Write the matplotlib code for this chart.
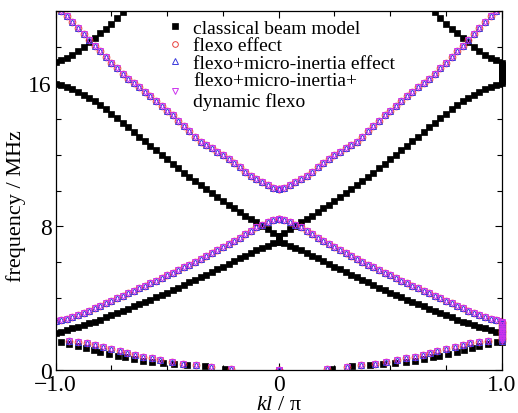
import numpy as np
import matplotlib
matplotlib.use("Agg")
import matplotlib.pyplot as plt
from matplotlib.ticker import MultipleLocator

plt.rcParams['font.family'] = ['Liberation Serif', 'DejaVu Serif']
plt.rcParams['mathtext.fontset'] = 'custom'
plt.rcParams['mathtext.it'] = 'Liberation Serif:italic'
plt.rcParams['mathtext.rm'] = 'Liberation Serif'

# ---- data (positive half of the zone, kl/pi), mirrored to negative half ----
k_grid = [0.0, 0.025, 0.05, 0.075, 0.1, 0.125, 0.15, 0.175, 0.2, 0.225,
          0.25, 0.275, 0.3, 0.325, 0.35, 0.375, 0.4, 0.425, 0.45, 0.475,
          0.5, 0.525, 0.55, 0.575, 0.6, 0.625, 0.65, 0.675, 0.7, 0.725,
          0.75, 0.775, 0.8, 0.825, 0.85, 0.875, 0.9, 0.925, 0.95, 0.975, 1.0]

# classical beam model
c1_k = [0.24, 0.33, 0.41, 0.47, 0.52, 0.57, 0.61, 0.65, 0.69, 0.72,
        0.76, 0.8, 0.83, 0.865, 0.9, 0.94, 0.977]
c1_f = [0.03, 0.2, 0.28, 0.32, 0.37, 0.44, 0.52, 0.61, 0.71, 0.8,
        0.89, 1.0, 1.1, 1.22, 1.34, 1.45, 1.55]
c2_f = [7.12, 7.05, 6.93, 6.8, 6.66, 6.52, 6.37, 6.22, 6.06, 5.9,
        5.75, 5.6, 5.45, 5.3, 5.16, 5.02, 4.88, 4.73, 4.58, 4.44,
        4.3, 4.17, 4.04, 3.91, 3.78, 3.66, 3.54, 3.42, 3.3, 3.18,
        3.06, 2.93, 2.8, 2.69, 2.6, 2.5, 2.42, 2.33, 2.24, 2.14, 2.07]
c3_f = [7.49, 7.66, 7.84, 8.02, 8.22, 8.41, 8.6, 8.8, 9.0, 9.2,
        9.4, 9.62, 9.85, 10.08, 10.3, 10.53, 10.77, 11.0, 11.25, 11.5,
        11.75, 12.0, 12.25, 12.5, 12.75, 13.0, 13.26, 13.52, 13.78, 14.03,
        14.28, 14.52, 14.75, 14.96, 15.15, 15.32, 15.48, 15.63, 15.77, 15.88, 15.95]
c4_k = [0.675, 0.7, 0.725, 0.75, 0.775, 0.8, 0.825, 0.85, 0.875, 0.9,
        0.925, 0.95, 0.975, 1.0]
c4_f = [20.3, 19.95, 19.6, 19.3, 19.0, 18.75, 18.5, 18.25, 18.0, 17.78,
        17.57, 17.4, 17.27, 17.15]
c_gap_low = [1.55, 1.65, 1.75, 1.85, 1.95, 2.05]
c_gap_high = [16.0, 16.1, 16.2, 16.3, 16.4, 16.5, 16.6, 16.7, 16.8, 16.9, 17.0, 17.1]

# flexo models (the three flexo curves coincide at this scale)
p1_k = [0.0, 0.215, 0.305, 0.37, 0.43, 0.48, 0.53, 0.57, 0.61, 0.645,
        0.68, 0.71, 0.75, 0.79, 0.825, 0.86, 0.9, 0.94]
p1_f = [0.0, 0.05, 0.15, 0.25, 0.36, 0.46, 0.56, 0.64, 0.74, 0.84,
        0.95, 1.05, 1.18, 1.3, 1.4, 1.48, 1.55, 1.63]
p2_f = [8.42, 8.38, 8.25, 8.1, 7.95, 7.77, 7.58, 7.38, 7.2, 7.02,
        6.85, 6.68, 6.5, 6.34, 6.18, 6.02, 5.87, 5.72, 5.57, 5.42,
        5.27, 5.12, 4.97, 4.83, 4.69, 4.55, 4.41, 4.27, 4.13, 3.99,
        3.85, 3.71, 3.57, 3.43, 3.3, 3.16, 3.04, 2.94, 2.85, 2.77, 2.72]
p3_f = [10.09, 10.15, 10.3, 10.45, 10.62, 10.82, 11.05, 11.3, 11.55, 11.78,
        11.98, 12.17, 12.37, 12.54, 12.72, 13.0, 13.3, 13.6, 13.9, 14.18,
        14.45, 14.73, 15.0, 15.25, 15.5, 15.75, 16.0, 16.22, 16.5, 16.8,
        17.1, 17.43, 17.75, 18.08, 18.4, 18.72, 19.05, 19.38, 19.7, 20.0, 20.4]
p_gap_low = [1.6, 1.7, 1.8, 1.9, 2.0, 2.1, 2.2, 2.3, 2.4, 2.5, 2.6, 2.7]

labels = ['classical beam model', 'flexo effect',
          'flexo+micro-inertia effect', 'flexo+micro-inertia+\ndynamic flexo']


def mirror(k, f):
    k = np.asarray(k, float)
    f = np.asarray(f, float)
    return np.concatenate([-k[::-1], k]), np.concatenate([f[::-1], f])


classical = [mirror(c1_k, c1_f), mirror(k_grid, c2_f), mirror(k_grid, c3_f),
             mirror(c4_k, c4_f)]
classical_gap = np.array(c_gap_low + c_gap_high)
flexo = [mirror(p1_k, p1_f), mirror(k_grid, p2_f), mirror(k_grid, p3_f)]
flexo_gap = np.array(p_gap_low)

fig = plt.figure(figsize=(5.18, 4.14), dpi=100)
ax = fig.add_axes([0.1075, 0.1039, 0.861, 0.867])

styles = [
    dict(marker='s', color='black', ms=4.4, mfc='black', mew=0.5),
    dict(marker='o', color='#e8403c', ms=4.8, mfc='none', mew=0.7),
    dict(marker='^', color='#3a3adc', ms=4.8, mfc='none', mew=0.7),
    dict(marker='v', color='#cc33ee', ms=4.8, mfc='none', mew=0.7),
]

for i, (x, y) in enumerate(classical):
    ax.plot(x, y, ls='none', label=labels[0] if i == 0 else None, **styles[0])
ax.plot(np.ones_like(classical_gap), classical_gap, ls='none', clip_on=False,
        zorder=5, **styles[0])

for s in range(1, 4):
    for i, (x, y) in enumerate(flexo):
        ax.plot(x, y, ls='none', label=labels[s] if i == 0 else None, **styles[s])
    ax.plot(np.ones_like(flexo_gap), flexo_gap, ls='none', clip_on=False,
            zorder=5, **styles[s])

ax.set_xlim(-1, 1)
ax.set_ylim(0, 20)
ax.set_xticks([-1, 0, 1])
ax.set_xticklabels(['\u22121.0', '0', '1.0'])
ax.set_yticks([0, 8, 16])
ax.xaxis.set_minor_locator(MultipleLocator(0.25))
ax.yaxis.set_minor_locator(MultipleLocator(2))
ax.tick_params(which='both', direction='in', top=True, right=True, labelsize=17)
ax.tick_params(which='major', length=5, width=0.8, pad=3)
ax.tick_params(which='minor', length=3.5, width=0.8)
for sp in ax.spines.values():
    sp.set_linewidth(0.9)

ax.set_xlabel('$kl$ / \u03c0', fontsize=16, labelpad=0)
ax.set_ylabel('frequency / MHz', fontsize=16)
ax.yaxis.set_label_coords(-0.066, 0.46)

leg = ax.legend(loc='upper left', bbox_to_anchor=(0.225, 1.015), frameon=False,
                fontsize=14, handlelength=0.6, handletextpad=0.6,
                labelspacing=0.0, borderpad=0.2, markerscale=0.85)

fig.savefig('out.png', dpi=100)
